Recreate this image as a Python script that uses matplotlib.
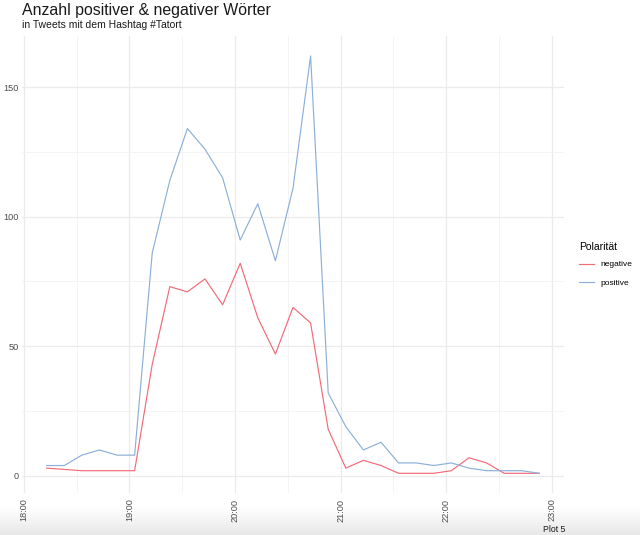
import matplotlib
matplotlib.use("Agg")
import matplotlib.pyplot as plt
import matplotlib.dates as mdates
import numpy as np
import pandas as pd

plt.rcParams["font.family"] = ["Liberation Sans", "DejaVu Sans"]

times = pd.date_range("2020-01-01 18:13", periods=29, freq="10min")
positive = [4, 4, 8, 10, 8, 8, 86, 114, 134, 126, 115, 91, 105, 83, 111, 162,
            32, 19, 10, 13, 5, 5, 4, 5, 3, 2, 2, 2, 1]
negative = [3, 2.5, 2, 2, 2, 2, 43, 73, 71, 76, 66, 82, 61, 47, 65, 59,
            18, 3, 6, 4, 1, 1, 1, 2, 7, 5, 1, 1, 1]
series_names = ["negative", "positive"]
colors = {"negative": "#F26B78", "positive": "#8CB0D8"}
x_ticks = pd.date_range("2020-01-01 18:00", periods=6, freq="60min")
x_minor = pd.date_range("2020-01-01 18:30", periods=5, freq="60min")
y_ticks = [0, 50, 100, 150]
y_minor = [25, 75, 125]

fig = plt.figure(figsize=(6.4, 5.35), dpi=100)
ax = fig.add_axes([22/640, 1-493/535, (564-22)/640, (493-36)/535])

ax.plot(times, negative, color=colors["negative"], lw=0.85, label="negative")
ax.plot(times, positive, color=colors["positive"], lw=0.85, label="positive")
ax.margins(x=0.05)
ax.set_ylim(-6.6, 169.7)

ax.set_xticks(x_ticks)
ax.set_xticks(x_minor, minor=True)
ax.xaxis.set_major_formatter(mdates.DateFormatter("%H:%M"))
ax.set_yticks(y_ticks)
ax.set_yticks(y_minor, minor=True)
ax.grid(True, which="major", color="#EBEBEB", lw=0.9)
ax.grid(True, which="minor", color="#F3F3F3", lw=0.6)
ax.set_axisbelow(True)
for s in ax.spines.values():
    s.set_visible(False)
ax.tick_params(which="both", length=0)
ax.tick_params(axis="x", labelsize=6.6, labelcolor="#4D4D4D", rotation=90, pad=4)
ax.tick_params(axis="y", labelsize=6.6, labelcolor="#4D4D4D", pad=2.5)

fig.text(22/640, 1-10/535, "Anzahl positiver & negativer Wörter", fontsize=11.4,
         color="#1A1A1A", va="center", ha="left")
fig.text(22/640, 1-25.5/535, "in Tweets mit dem Hashtag #Tatort", fontsize=7.5,
         color="#1A1A1A", va="center", ha="left")

leg = ax.legend(title="Polarität", loc="center left", bbox_to_anchor=(1.02, 0.50),
                frameon=False, fontsize=6, title_fontsize=7.5, handlelength=1.8,
                handletextpad=0.8, labelspacing=1.25, borderpad=0)
leg._legend_box.align = "left"
leg._legend_box.sep = 6

# bottom screenshot shading
grad = np.linspace(1.0, 0.91, 50).reshape(-1, 1)
gax = fig.add_axes([0, 0, 1, 28/535], zorder=-1)
gax.imshow(np.dstack([grad, grad, grad]), aspect="auto", extent=[0, 1, 0, 1])
gax.axis("off")

fig.text(565/640, 1-529/535, "Plot 5", fontsize=6.3, color="#1A1A1A",
         ha="right", va="center")

fig.savefig("out.png", dpi=100)
